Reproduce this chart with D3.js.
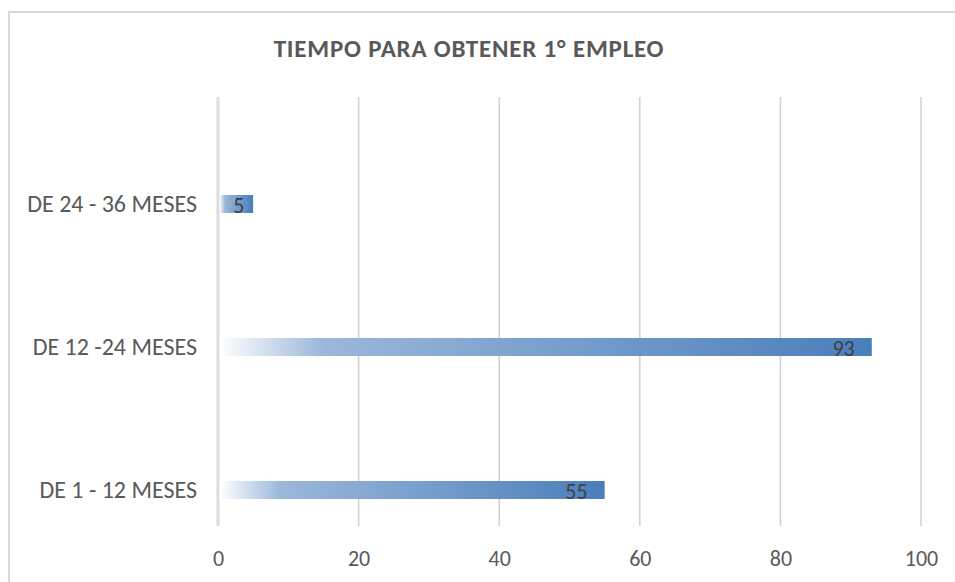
<!DOCTYPE html>
<html>
<head>
<meta charset="utf-8">
<script src="https://cdn.jsdelivr.net/npm/d3@7"></script>
<style>
	body { margin: 0; background: #fff; }
	text { font-family: Carlito, Calibri, Lato, 'Open Sans', sans-serif; }
</style>
</head>
<body>
<svg class="chart"></svg>
<script>
const categories = ['DE 1 - 12 MESES', 'DE 12 -24 MESES', 'DE 24 - 36 MESES'];
const values = [55, 93, 5];
const ticks = [0, 20, 40, 60, 80, 100];
const title = 'TIEMPO PARA OBTENER 1° EMPLEO';

const width = 955;
const height = 582;

const svg = d3.select('svg.chart')
	.attr('width', width)
	.attr('height', height);

// outer frame (runs off the right and bottom edge)
svg.append('rect')
	.attr('x', 9)
	.attr('y', 12)
	.attr('width', width + 10)
	.attr('height', height + 10)
	.attr('fill', 'none')
	.attr('stroke', '#d9d9d9')
	.attr('stroke-width', 2);

const margin = { top: 97, right: 34, bottom: 57, left: 218 };
const innerHeight = height - margin.top - margin.bottom;

const x = d3.scaleLinear()
	.domain([0, 100])
	.range([0, 703]);

const y = d3.scaleBand()
	.domain(categories.slice().reverse())
	.range([35.5, 464.5])
	.paddingInner(0.874)
	.paddingOuter(0.437);

const defs = svg.append('defs');
const grad = defs.append('linearGradient')
	.attr('id', 'barGrad')
	.attr('x1', '0%').attr('x2', '100%')
	.attr('y1', '0%').attr('y2', '0%');
grad.append('stop').attr('offset', '0%').attr('stop-color', '#ffffff');
grad.append('stop').attr('offset', '16%').attr('stop-color', '#9bb7da');
grad.append('stop').attr('offset', '100%').attr('stop-color', '#4a7ebb');

svg.append('text')
	.attr('x', 469)
	.attr('y', 57)
	.attr('text-anchor', 'middle')
	.attr('fill', '#595959')
	.attr('font-size', 25)
	.attr('font-weight', 'bold')
	.attr('letter-spacing', 0.8)
	.text(title);

const g = svg.append('g')
	.attr('transform', `translate(${margin.left}, ${margin.top})`);

// gridlines
g.selectAll('line.grid')
	.data(ticks.slice(1))
	.enter().append('line')
		.attr('class', 'grid')
		.attr('x1', d => x(d))
		.attr('x2', d => x(d))
		.attr('y1', 0)
		.attr('y2', innerHeight + 1)
		.attr('stroke', '#d0d0d0')
		.attr('stroke-width', 1.5);

// value axis at zero
g.append('line')
	.attr('x1', x(0))
	.attr('x2', x(0))
	.attr('y1', 0)
	.attr('y2', innerHeight + 1)
	.attr('stroke', '#dcdcdc')
	.attr('stroke-width', 3);

const xAxis = d3.axisBottom(x)
	.tickValues(ticks)
	.tickSize(0)
	.tickPadding(0);

g.append('g')
	.attr('transform', `translate(0, ${innerHeight + 41})`)
	.call(xAxis)
	.call(a => a.select('.domain').remove())
	.selectAll('text')
		.attr('font-size', 22)
		.attr('fill', '#595959')
		.attr('dy', 0);

const yAxis = d3.axisLeft(y)
	.tickSize(0)
	.tickPadding(21);

g.append('g')
	.call(yAxis)
	.call(a => a.select('.domain').remove())
	.selectAll('text')
		.attr('font-size', 24)
		.attr('fill', '#595959')
		.attr('dy', 8);

const data = categories.map((c, i) => ({ name: c, value: values[i] }));

g.selectAll('rect.bar')
	.data(data)
	.enter().append('rect')
		.attr('class', 'bar')
		.attr('x', x(0) + 1.5)
		.attr('y', d => y(d.name))
		.attr('width', d => x(d.value) - x(0) - 1.5)
		.attr('height', y.bandwidth())
		.attr('fill', 'url(#barGrad)');

g.selectAll('text.label')
	.data(data)
	.enter().append('text')
		.attr('class', 'label')
		.attr('x', d => x(d.value) - Math.min(17, x(d.value) * 0.25))
		.attr('y', d => y(d.name) + y.bandwidth())
		.attr('text-anchor', 'end')
		.attr('font-size', 22)
		.attr('fill', '#404040')
		.text(d => d.value);
</script>
</body>
</html>
